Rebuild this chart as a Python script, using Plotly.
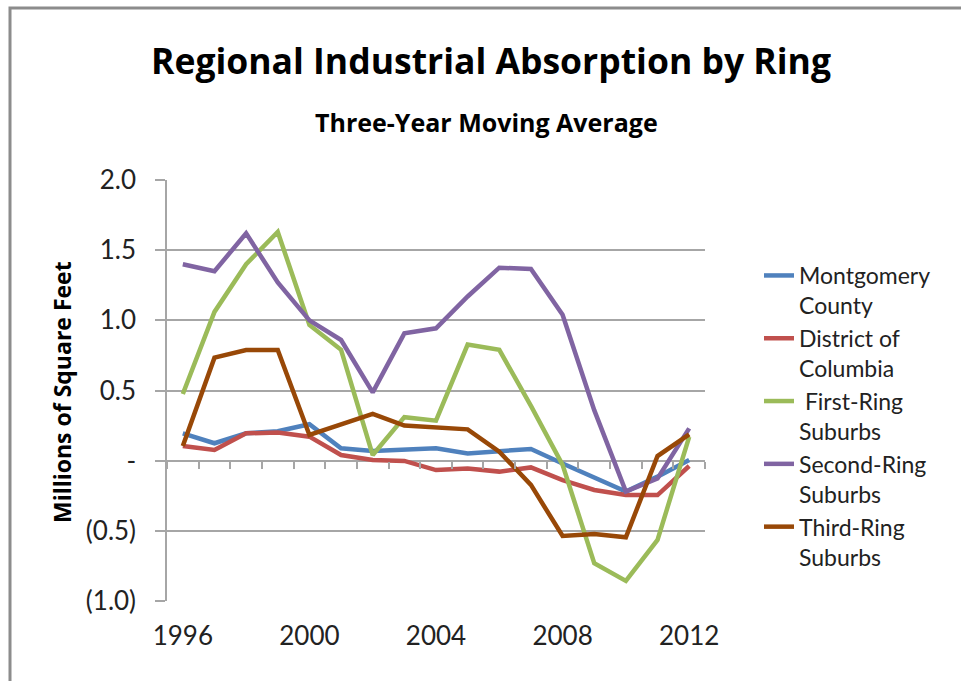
import plotly.graph_objects as go

# three-year moving average, millions of sq ft
years = list(range(1996, 2013))
montgomery = [0.195, 0.124, 0.195, 0.21, 0.26, 0.088, 0.069, 0.076, 0.088,
              0.052, 0.064, 0.083, -0.02, -0.12, -0.22, -0.114, 0.005]
district = [0.105, 0.076, 0.195, 0.20, 0.171, 0.04, 0.005, -0.002, -0.067,
            -0.055, -0.078, -0.048, -0.138, -0.209, -0.245, -0.245, -0.038]
first_ring = [0.475, 1.06, 1.40, 1.63, 0.967, 0.79, 0.04, 0.31, 0.285,
              0.827, 0.79, 0.39, -0.03, -0.73, -0.857, -0.565, 0.17]
second_ring = [1.40, 1.35, 1.62, 1.27, 1.00, 0.86, 0.487, 0.907, 0.943,
               1.17, 1.375, 1.366, 1.04, 0.36, -0.22, -0.126, 0.23]
third_ring = [0.105, 0.734, 0.789, 0.789, 0.183, 0.26, 0.333, 0.25, 0.237,
              0.223, 0.064, -0.173, -0.537, -0.523, -0.546, 0.033, 0.188]

series_names = ["Montgomery<br>County", "District of<br>Columbia", " First-Ring<br>Suburbs",
                "Second-Ring<br>Suburbs", "Third-Ring<br>Suburbs"]
colors = ["#4F81BD", "#C0504D", "#9BBB59", "#8064A2", "#984807"]

y_ticks = [-1.0, -0.5, 0, 0.5, 1.0, 1.5, 2.0]
y_labels = ["(1.0)", "(0.5)", "-", "0.5", "1.0", "1.5", "2.0"]
x_ticks = [1996, 2000, 2004, 2008, 2012]

FONT = "Lato"
BOLD_FONT = "Open Sans"
GRID = "#a6a6a6"
TXT = "#222222"

fig = go.Figure()
for name, vals, col in zip(series_names, [montgomery, district, first_ring, second_ring, third_ring], colors):
    fig.add_trace(go.Scatter(x=years, y=vals, name=name, mode="lines",
                             line=dict(color=col, width=4.5)))

# helper trace so the category tick marks on the zero line get drawn
fig.add_trace(go.Scatter(x=years, y=montgomery, xaxis="x2", mode="lines",
                         line=dict(width=0), opacity=0, showlegend=False, hoverinfo="skip"))

L, R, T, B = 167, 256, 180, 80
W, H = 961, 681
pw, ph = W - L - R, H - T - B

def px_x(p):
    return (p - L) / pw

def px_y(p):
    return (H - B - p) / ph

fig.update_layout(
    width=W, height=H,
    margin=dict(l=L, r=R, t=T, b=B),
    paper_bgcolor="white", plot_bgcolor="white",
    font=dict(family=FONT, color=TXT),
    xaxis=dict(range=[1995.5, 2012.5], tickvals=x_ticks, showgrid=False, zeroline=False,
               showline=False, ticks="", ticklabelstandoff=17,
               tickfont=dict(size=26, family=FONT, color=TXT)),
    xaxis2=dict(range=[1995.5, 2012.5], overlaying="x", anchor="free", position=px_y(461),
                side="bottom", tickvals=[y + 0.5 for y in range(1995, 2013)],
                ticks="outside", ticklen=7, tickwidth=1.5, tickcolor=GRID,
                showticklabels=False, showgrid=False, zeroline=False, showline=False),
    yaxis=dict(range=[-1.0, 2.0], tickvals=y_ticks, ticktext=y_labels,
               showgrid=True, gridcolor=GRID, gridwidth=1.5, zeroline=False,
               showline=True, linecolor=GRID, linewidth=1.5,
               ticks="outside", ticklen=10, tickwidth=1.5, tickcolor=GRID,
               ticklabelstandoff=14,
               tickfont=dict(size=26, family=FONT, color=TXT)),
    legend=dict(x=px_x(759), y=px_y(254), xanchor="left", yanchor="top",
                font=dict(size=23, family=FONT, color=TXT),
                valign="top", bgcolor="rgba(0,0,0,0)", tracegroupgap=0),
    showlegend=True,
)

fig.add_annotation(text="<b>Regional Industrial Absorption by Ring</b>", xref="paper", yref="paper",
                   x=px_x(491), y=px_y(60), showarrow=False, xanchor="center", yanchor="middle",
                   font=dict(size=35.5, family=BOLD_FONT, color="#000000"))
fig.add_annotation(text="<b>Three-Year Moving Average</b>", xref="paper", yref="paper",
                   x=px_x(486), y=px_y(122), showarrow=False, xanchor="center", yanchor="middle",
                   font=dict(size=25, family=BOLD_FONT, color="#000000"))
fig.add_annotation(text="<b>Millions of Square Feet</b>", xref="paper", yref="paper",
                   x=px_x(62), y=px_y(392), showarrow=False, textangle=-90,
                   xanchor="center", yanchor="middle",
                   font=dict(size=23, family=BOLD_FONT, color="#000000"))

# chart frame (left and top edges visible in the crop)
fig.add_shape(type="rect", xref="paper", yref="paper",
              x0=px_x(10), x1=px_x(1000), y0=px_y(720), y1=px_y(8),
              line=dict(color="#8c8c8c", width=3), fillcolor="rgba(0,0,0,0)", layer="below")

fig.write_html("out.html", config={"displayModeBar": False},
               post_script="document.body.style.margin = '0';")
